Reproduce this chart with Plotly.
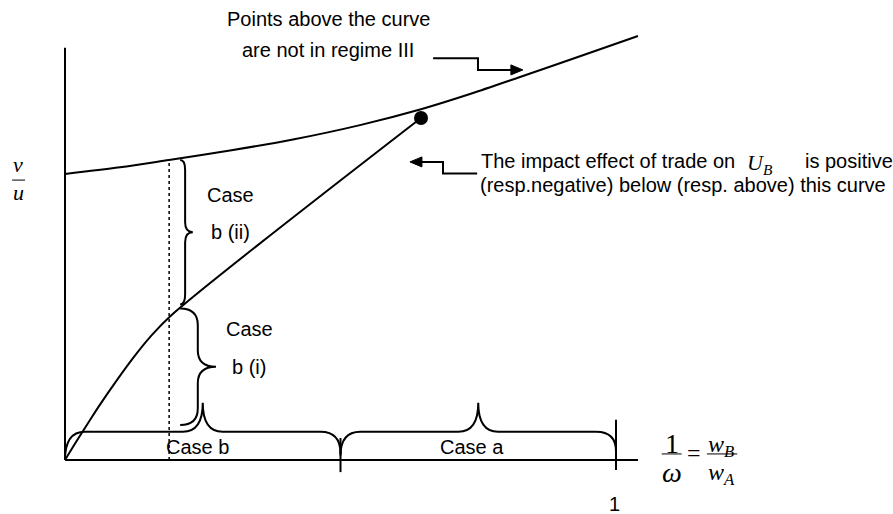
import numpy as np
import plotly.graph_objects as go

# Horizontal axis: 1/omega = wB/wA ; vertical axis: v/u
# Upper schedule (boundary of regime III)
upper_x = [0.0, 0.0998, 0.1887, 0.2994, 0.4138, 0.5354, 0.6461, 0.7350, 0.8258, 0.9347, 1.0399]
upper_y = [0.5191, 0.5311, 0.5445, 0.5617, 0.5817, 0.6078, 0.6366, 0.6642, 0.6951, 0.7327, 0.7695]

# Lower schedule (sign of the impact effect on U_B)
lower_x = [0.0, 0.0127, 0.0272, 0.0454, 0.0635, 0.0907, 0.1234, 0.1543, 0.1906, 0.6461]
lower_y = [0.0, 0.0209, 0.0441, 0.0726, 0.1004, 0.1399, 0.1848, 0.2229, 0.2606, 0.6207]

# Point where the two schedules meet
meet_x = [0.6461]
meet_y = [0.6207]

# Dotted boundary inside case b
split_x = 0.189

# Cases along the horizontal axis
case_names = ["Case b", "Case a"]
case_edges = [0.0, 0.5, 1.0]
tick_labels = ["", "1"]

INK = "black"
LW = 2
SANS = "Liberation Sans, Arial, sans-serif"
SERIF = "Liberation Serif, Times New Roman, serif"
PX = 1 / 551  # one screen pixel in axis units

fig = go.Figure()

line_style = dict(color=INK, width=LW, shape="spline", smoothing=0.9)
fig.add_trace(go.Scatter(x=upper_x, y=upper_y, mode="lines", line=line_style))
fig.add_trace(go.Scatter(x=lower_x, y=lower_y, mode="lines", line=line_style))
fig.add_trace(go.Scatter(x=meet_x, y=meet_y, mode="markers",
                         marker=dict(color=INK, size=14)))

split_top = float(np.interp(split_x, upper_x, upper_y))
fig.add_trace(go.Scatter(x=[split_x, split_x], y=[0, split_top], mode="lines",
                         line=dict(color=INK, width=1.5, dash="dot")))

shapes = []
# axes
shapes.append(dict(type="line", x0=0, y0=0, x1=0, y1=0.748,
                   line=dict(color=INK, width=LW)))
shapes.append(dict(type="line", x0=0, y0=0, x1=1.04, y1=0,
                   line=dict(color=INK, width=LW)))
# tick marks
for tx, lo, hi in zip(case_edges[1:], [-0.022, -0.018], [0.040, 0.073]):
    shapes.append(dict(type="line", x0=tx, y0=lo, x1=tx, y1=hi,
                       line=dict(color=INK, width=LW)))


def hbrace(x0, x1, y_end0, y_end1, y_run, y_tip, r):
    xc = (x0 + x1) / 2
    return (f"M {x0},{y_end0} Q {x0},{y_run} {x0 + r},{y_run} "
            f"L {xc - r},{y_run} Q {xc},{y_run} {xc},{y_tip} "
            f"Q {xc},{y_run} {xc + r},{y_run} L {x1 - r},{y_run} "
            f"Q {x1},{y_run} {x1},{y_end1}")


def vbrace(x_spine, x_end, x_tip, y_top, y_bot, ry):
    ym = (y_top + y_bot) / 2
    return (f"M {x_end},{y_top} Q {x_spine},{y_top} {x_spine},{y_top - ry} "
            f"L {x_spine},{ym + ry} Q {x_spine},{ym} {x_tip},{ym} "
            f"Q {x_spine},{ym} {x_spine},{ym - ry} L {x_spine},{y_bot + ry} "
            f"Q {x_spine},{y_bot} {x_end},{y_bot}")


def head(x_tip, y_tip, direction):
    # filled triangular arrow head, direction +1 = right, -1 = left
    back = x_tip - direction * 12 * PX
    hw = 5 * PX
    return dict(type="path", path=f"M {x_tip},{y_tip} L {back},{y_tip + hw} L {back},{y_tip - hw} Z",
                fillcolor=INK, line=dict(color=INK, width=1))


# braces under the two cases
shapes.append(dict(type="path", path=hbrace(case_edges[0], case_edges[1], 0.0, 0.012,
                                            0.0514, 0.104, 0.036),
                   line=dict(color=INK, width=LW)))
shapes.append(dict(type="path", path=hbrace(case_edges[1], case_edges[2], 0.008, 0.016,
                                            0.0514, 0.104, 0.036),
                   line=dict(color=INK, width=LW)))

# braces for b(ii) and b(i)
spine2, end2, tip2 = 0.218, 0.209, 0.232
bot2 = float(np.interp(spine2, lower_x, lower_y))
shapes.append(dict(type="path", path=vbrace(spine2, end2, tip2, split_top, bot2, 0.018),
                   line=dict(color=INK, width=LW)))
spine1, end1, tip1 = 0.241, 0.209, 0.274
top1 = float(np.interp(end1, lower_x, lower_y))
shapes.append(dict(type="path", path=vbrace(spine1, end1, tip1, top1, 0.0635, 0.03),
                   line=dict(color=INK, width=LW)))

# fraction bars of the axis labels
shapes.append(dict(type="line", x0=-0.096, x1=-0.0726, y0=0.508, y1=0.508,
                   line=dict(color=INK, width=1)))
shapes.append(dict(type="line", x0=1.083, x1=1.119, y0=0.011, y1=0.011,
                   line=dict(color=INK, width=1)))
shapes.append(dict(type="line", x0=1.165, x1=1.220, y0=0.011, y1=0.011,
                   line=dict(color=INK, width=1)))

# stepped pointers with arrow heads
fig.add_trace(go.Scatter(x=[0.668, 0.7495, 0.7495, 0.815], y=[0.729, 0.729, 0.708, 0.708],
                         mode="lines", line=dict(color=INK, width=LW)))
shapes.append(head(0.831, 0.708, +1))
fig.add_trace(go.Scatter(x=[0.748, 0.686, 0.686, 0.640], y=[0.520, 0.520, 0.541, 0.541],
                         mode="lines", line=dict(color=INK, width=LW)))
shapes.append(head(0.626, 0.541, -1))

annotations = []


def label(text, x, y, size=20, family=SANS, xanchor="center"):
    annotations.append(dict(text=text, x=x, y=y, xref="x", yref="y", showarrow=False,
                            xanchor=xanchor, yanchor="middle",
                            font=dict(family=family, size=size, color=INK)))


label("Points above the curve", 0.479, 0.800)
label("are not in regime III", 0.478, 0.744)
label("The impact effect of trade on", 0.751, 0.543, xanchor="left")
label("<i>U<sub>B</sub></i>", 1.234, 0.537, size=22, family=SERIF, xanchor="left")
label("is positive", 1.339, 0.543, xanchor="left")
label("(resp.negative) below (resp. above) this curve", 0.7495, 0.499, xanchor="left")
label("Case", 0.301, 0.481)
label("b (ii)", 0.300, 0.414)
label("Case", 0.334, 0.238)
label("b (i)", 0.334, 0.169)
label(case_names[0], 0.240, 0.024)
label(case_names[1], 0.739, 0.024)
label(tick_labels[1], case_edges[2] - 0.002, -0.079)
label("<i>v</i>", -0.0853, 0.536, size=22, family=SERIF)
label("<i>u</i>", -0.0853, 0.485, size=22, family=SERIF)
label("1", 1.101, 0.030, size=28, family=SERIF)
label("<i>ω</i>", 1.101, -0.022, size=28, family=SERIF)
label("=", 1.142, 0.012, size=24, family=SERIF)
label("<i>w<sub>B</sub></i>", 1.191, 0.026, size=24, family=SERIF)
label("<i>w<sub>A</sub></i>", 1.191, -0.026, size=24, family=SERIF)

fig.update_layout(
    width=893, height=514,
    margin=dict(l=0, r=0, t=0, b=0),
    paper_bgcolor="white", plot_bgcolor="white",
    showlegend=False, hovermode=False,
    xaxis=dict(visible=False, range=[-65 / 551, 828 / 551], fixedrange=True),
    yaxis=dict(visible=False, range=[-54 / 551, 460 / 551], fixedrange=True),
    shapes=shapes, annotations=annotations,
)

fig.write_html("out.html")
